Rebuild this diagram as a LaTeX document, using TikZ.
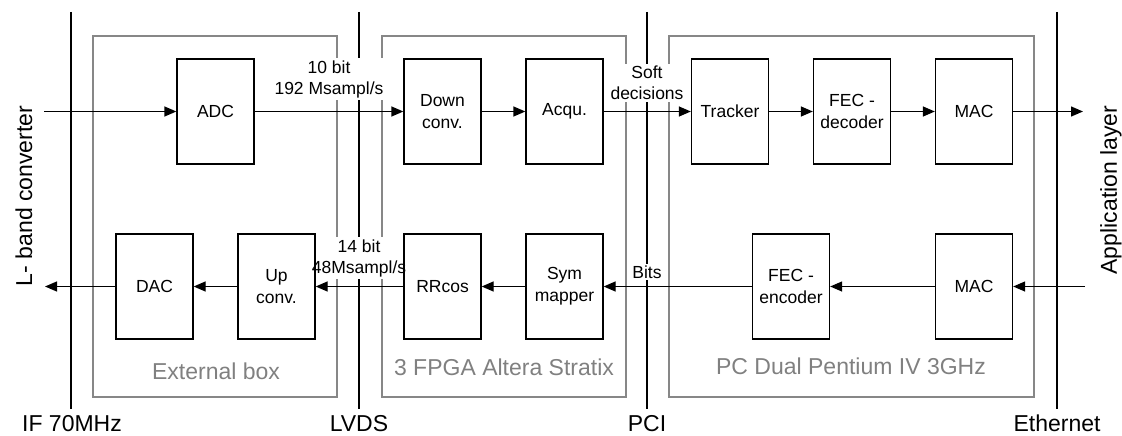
\documentclass[tikz,border=0pt]{standalone}
\usepackage{fontspec}
\setmainfont{Liberation Sans}
\usetikzlibrary{arrows.meta}
\definecolor{framegray}{RGB}{135,135,135}
\definecolor{labelgray}{RGB}{128,128,128}
\begin{document}
\begin{tikzpicture}[x=1pt,y=-1pt,
  blk/.style={draw,line width=1.3pt,minimum width=77pt,minimum height=105pt,
    inner sep=0pt,align=center,font=\fontsize{17.5}{22}\selectfont},
  flow/.style={line width=1.3pt,-{Triangle[length=12pt,width=10pt]}},
  iface/.style={line width=2.6pt},
  group/.style={draw=framegray,line width=2.4pt},
  sig/.style={fill=white,inner sep=2pt,align=center,font=\fontsize{17.5}{21}\selectfont},
  biglabel/.style={font=\fontsize{23}{26}\selectfont},
  busname/.style={biglabel,anchor=north,inner sep=6pt},
  grouplabel/.style={font=\fontsize{23}{26}\selectfont,text=labelgray}]
\useasboundingbox (0,0) rectangle (1122,436);

% interface lines with their names
\node[busname] (if)   at (72,409)   {IF 70MHz};
\node[busname] (lvds) at (359,409)  {LVDS};
\node[busname] (pci)  at (647,409)  {PCI};
\node[busname] (eth)  at (1057,409) {Ethernet};
\coordinate (ift)   at (71,12);
\coordinate (lvdst) at (359,12);
\coordinate (pcit)  at (647,12);
\coordinate (etht)  at (1057,12);
\draw[iface] (ift) -- (ift |- if.north);
\draw[iface] (lvdst) -- (lvdst |- lvds.north);
\draw[iface] (pcit) -- (pcit |- pci.north);
\draw[iface] (etht) -- (etht |- eth.north);

% hardware groups
\draw[group] (93,36) rectangle (337,397);
\draw[group] (382,36) rectangle (626,397);
\draw[group] (669,36) rectangle (1034,397);
\node[grouplabel] (gext)  at (216,371) {External box};
\node[grouplabel] (gfpga) at (504,367) {3 FPGA Altera Stratix};
\node[grouplabel] (gpc)   at (851,366) {PC Dual Pentium IV 3GHz};

% side labels
\node[biglabel,rotate=90] (lband) at (24,196)   {L- band converter};
\node[biglabel,rotate=90] (app)   at (1111,190) {Application layer};

% signal labels
\node[sig] (rxlbl)   at (329,79)  {10 bit\\192 Msampl/s};
\node[sig] (softlbl) at (647,83)  {Soft\\decisions};
\node[sig] (txlbl)   at (359,258) {14 bit\\48Msampl/s};
\node[sig] (bitslbl) at (647,272) {Bits};

% receive chain
\node[blk] (adc)  at (215.5,111.5) {ADC};
\node[blk] (down) at (442.5,111.5) {Down\\conv.};
\node[blk] (acq)  at (564.5,111.5) {Acqu.};
\node[blk] (trk)  at (730,111.5)   {Tracker};
\node[blk] (dec)  at (852,111.5)   {FEC -\\decoder};
\node[blk] (macr) at (974,111.5)   {MAC};

% transmit chain
\node[blk] (dac)  at (154.5,286.5) {DAC};
\node[blk] (up)   at (276.5,286.5) {Up\\conv.};
\node[blk] (rrc)  at (442.5,286.5) {RRcos};
\node[blk] (sym)  at (564.5,286.5) {Sym\\mapper};
\node[blk] (enc)  at (791,286.5)   {FEC -\\encoder};
\node[blk] (mact) at (974,286.5)   {MAC};

\coordinate (rxin)  at (44,111.5);
\coordinate (rxout) at (1083,111.5);
\coordinate (txin)  at (1085,286.5);
\coordinate (txout) at (45,286.5);

\draw[flow] (rxin) -- (adc);
\draw[flow] (adc) -- (down);
\draw[flow] (down) -- (acq);
\draw[flow] (acq) -- (trk);
\draw[flow] (trk) -- (dec);
\draw[flow] (dec) -- (macr);
\draw[flow] (macr) -- (rxout);

\draw[flow] (txin) -- (mact);
\draw[flow] (mact) -- (enc);
\draw[flow] (enc) -- (sym);
\draw[flow] (sym) -- (rrc);
\draw[flow] (rrc) -- (up);
\draw[flow] (up) -- (dac);
\draw[flow] (dac) -- (txout);
\end{tikzpicture}
\end{document}
